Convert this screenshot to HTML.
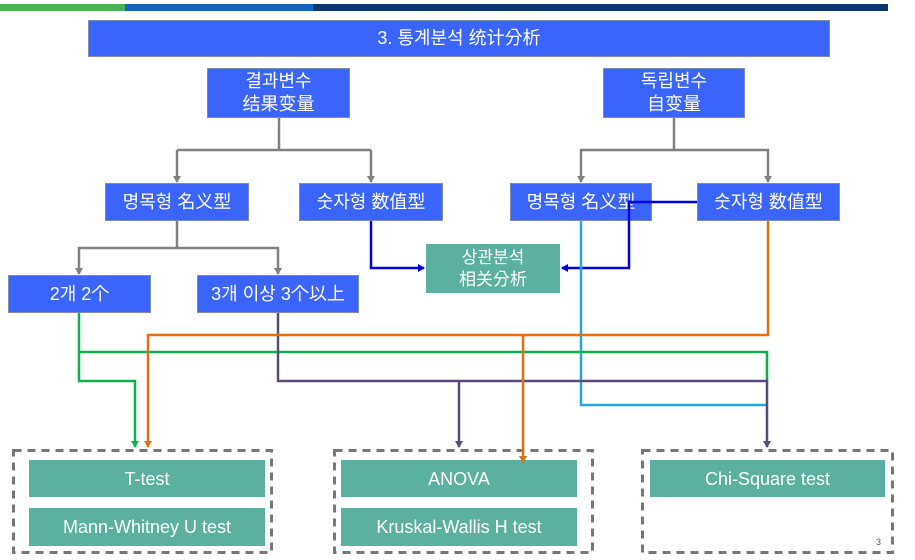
<!DOCTYPE html>
<html><head><meta charset="utf-8"><style>
body{margin:0;width:915px;height:560px;background:#fff;position:relative;overflow:hidden;font-family:"Liberation Sans","Noto Sans CJK KR",sans-serif}
.b{position:absolute;background:#3a64fa;color:#fff;display:flex;align-items:center;justify-content:center;text-align:center;font-size:18px;line-height:23px;box-shadow:0 0 0 1px #7f8ab0 inset}
.t{position:absolute;background:#5bb0a0;color:#fff;display:flex;align-items:center;justify-content:center;text-align:center;font-size:18px;line-height:22px}
svg{position:absolute;left:0;top:0}
</style></head><body>
<div style="position:absolute;left:0;top:4px;width:125px;height:7px;background:#4caf50"></div>
<div style="position:absolute;left:125px;top:4px;width:188px;height:7px;background:#1565c0"></div>
<div style="position:absolute;left:313px;top:4px;width:575px;height:7px;background:#0d3570"></div>
<div class="b" style="left:88px;top:20px;width:742px;height:37px">3. 통계분석 统计分析</div>
<div class="b" style="left:207px;top:68px;width:143px;height:50px">결과변수<br>结果变量</div>
<div class="b" style="left:603px;top:68px;width:142px;height:50px">독립변수<br>自变量</div>
<div class="b" style="left:105px;top:183px;width:144px;height:38px">명목형 名义型</div>
<div class="b" style="left:299px;top:183px;width:144px;height:38px">숫자형 数值型</div>
<div class="b" style="left:510px;top:183px;width:142px;height:38px">명목형 名义型</div>
<div class="b" style="left:697px;top:183px;width:143px;height:38px">숫자형 数值型</div>
<div class="b" style="left:8px;top:275px;width:143px;height:38px">2개 2个</div>
<div class="b" style="left:197px;top:275px;width:162px;height:38px">3개 이상 3个以上</div>
<div class="t" style="left:426px;top:244px;width:134px;height:49px;font-size:17px">상관분석<br>相关分析</div>
<div class="t" style="left:29px;top:460px;width:236px;height:37px">T-test</div>
<div class="t" style="left:29px;top:508px;width:236px;height:38px">Mann-Whitney U test</div>
<div class="t" style="left:341px;top:460px;width:236px;height:37px">ANOVA</div>
<div class="t" style="left:341px;top:508px;width:236px;height:38px">Kruskal-Wallis H test</div>
<div class="t" style="left:650px;top:460px;width:235px;height:37px">Chi-Square test</div>
<div style="position:absolute;left:876px;top:537px;font-size:9px;color:#555">3</div>
<svg width="915" height="560">
<defs>
<marker id="ag" markerWidth="8" markerHeight="8" refX="6" refY="4" orient="auto" markerUnits="userSpaceOnUse"><path d="M0,0L7,4L0,8z" fill="#808080"/></marker>
<marker id="ab" markerWidth="8" markerHeight="8" refX="6" refY="4" orient="auto" markerUnits="userSpaceOnUse"><path d="M0,0L7,4L0,8z" fill="#0000e0"/></marker>
<marker id="ao" markerWidth="8" markerHeight="8" refX="6" refY="4" orient="auto" markerUnits="userSpaceOnUse"><path d="M0,0L7,4L0,8z" fill="#e07010"/></marker>
<marker id="an" markerWidth="8" markerHeight="8" refX="6" refY="4" orient="auto" markerUnits="userSpaceOnUse"><path d="M0,0L7,4L0,8z" fill="#10b050"/></marker>
<marker id="ap" markerWidth="8" markerHeight="8" refX="6" refY="4" orient="auto" markerUnits="userSpaceOnUse"><path d="M0,0L7,4L0,8z" fill="#5a4a7a"/></marker>
</defs>
<g fill="none" stroke="#777" stroke-width="3" stroke-dasharray="8 6">
<rect x="13.5" y="450.5" width="258" height="102"/>
<rect x="334.5" y="450.5" width="258" height="102"/>
<rect x="642.5" y="450.5" width="250" height="102"/>
</g>
<g fill="none" stroke-width="2.5">
<path d="M279,118V150M177,150H371" stroke="#808080"/>
<path d="M177,150V182" stroke="#808080" marker-end="url(#ag)"/>
<path d="M371,150V182" stroke="#808080" marker-end="url(#ag)"/>
<path d="M674,118V150H581V182" stroke="#808080" marker-end="url(#ag)"/>
<path d="M674,150H768V182" stroke="#808080" marker-end="url(#ag)"/>
<path d="M177,221V248H79V274" stroke="#808080" marker-end="url(#ag)"/>
<path d="M177,248H278V274" stroke="#808080" marker-end="url(#ag)"/>
<path d="M371,221V268H424" stroke="#0000e0" marker-end="url(#ab)"/>
<path d="M697,202H629V268H562" stroke="#0000e0" marker-end="url(#ab)"/>
<path d="M581,221V405H767" stroke="#20a8e0"/>
<path d="M79,313V381H135V447" stroke="#10b050" marker-end="url(#an)"/>
<path d="M79,352H767V382" stroke="#10b050"/>
<path d="M278,313V381H767V447" stroke="#5a4a7a" marker-end="url(#ap)"/>
<path d="M459,381V447" stroke="#5a4a7a" marker-end="url(#ap)"/>
<path d="M768,221V335H148V447" stroke="#e07010" marker-end="url(#ao)"/>
<path d="M523,335V462" stroke="#e07010" marker-end="url(#ao)"/>
</g>
</svg>
</body></html>
